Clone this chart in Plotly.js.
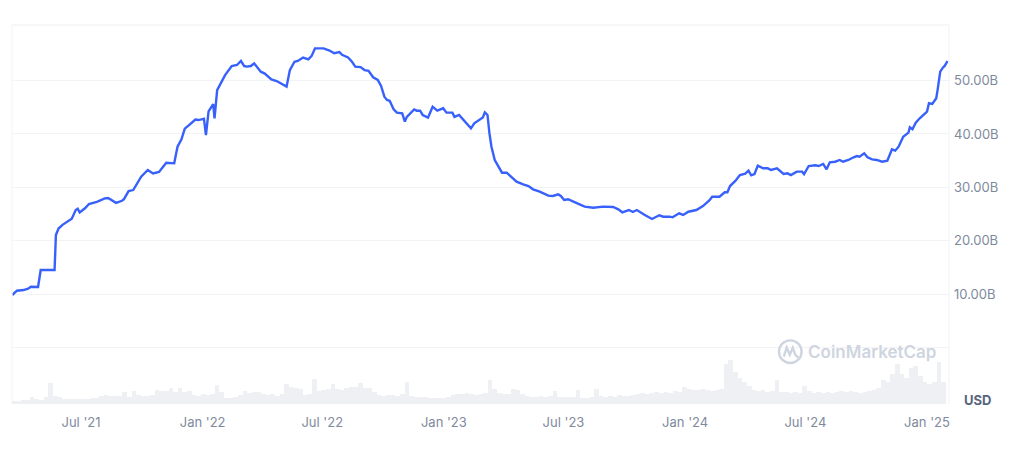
<!DOCTYPE html>
<html>
<head>
<meta charset="utf-8">
<script src="https://cdn.plot.ly/plotly-3.0.1.min.js"></script>
<style>html,body{margin:0;padding:0;background:#fff;}#chart{width:1024px;height:458px;}</style>
</head>
<body>
<div id="chart"></div>
<script>
// Market cap (billions USD)
const capDates = ['2021-03-19','2021-03-26','2021-04-05','2021-04-12','2021-04-16','2021-04-27','2021-05-01','2021-05-22','2021-05-24','2021-05-28','2021-06-03','2021-06-17','2021-06-23','2021-06-26','2021-06-29','2021-07-07','2021-07-13','2021-07-25','2021-08-06','2021-08-11','2021-08-23','2021-09-01','2021-09-04','2021-09-11','2021-09-18','2021-09-23','2021-09-30','2021-10-10','2021-10-18','2021-10-27','2021-11-07','2021-11-19','2021-11-24','2021-11-30','2021-12-05','2021-12-11','2021-12-21','2021-12-26','2021-12-30','2022-01-03','2022-01-06','2022-01-10','2022-01-17','2022-01-19','2022-01-23','2022-01-30','2022-02-04','2022-02-14','2022-02-22','2022-02-28','2022-03-05','2022-03-09','2022-03-15','2022-03-20','2022-03-30','2022-04-05','2022-04-15','2022-04-23','2022-05-08','2022-05-13','2022-05-20','2022-05-25','2022-06-02','2022-06-10','2022-06-15','2022-06-20','2022-07-03','2022-07-12','2022-07-19','2022-07-27','2022-07-31','2022-08-09','2022-08-15','2022-08-20','2022-08-28','2022-09-03','2022-09-09','2022-09-16','2022-09-23','2022-09-28','2022-10-03','2022-10-07','2022-10-11','2022-10-17','2022-10-22','2022-10-30','2022-11-03','2022-11-06','2022-11-11','2022-11-17','2022-11-21','2022-11-26','2022-11-30','2022-12-08','2022-12-15','2022-12-22','2022-12-31','2023-01-05','2023-01-14','2023-01-17','2023-01-24','2023-01-31','2023-02-11','2023-02-16','2023-02-22','2023-03-01','2023-03-04','2023-03-08','2023-03-11','2023-03-14','2023-03-19','2023-03-24','2023-03-30','2023-04-06','2023-04-13','2023-04-21','2023-05-01','2023-05-09','2023-05-16','2023-05-26','2023-06-08','2023-06-15','2023-06-23','2023-06-27','2023-07-02','2023-07-08','2023-07-16','2023-08-02','2023-08-15','2023-08-30','2023-09-14','2023-09-22','2023-09-28','2023-10-08','2023-10-14','2023-10-20','2023-11-01','2023-11-12','2023-11-23','2023-11-29','2023-12-09','2023-12-13','2023-12-23','2023-12-29','2024-01-06','2024-01-18','2024-01-28','2024-02-07','2024-02-11','2024-02-22','2024-03-01','2024-03-05','2024-03-09','2024-03-17','2024-03-24','2024-04-01','2024-04-06','2024-04-10','2024-04-15','2024-04-20','2024-04-28','2024-05-05','2024-05-10','2024-05-19','2024-05-29','2024-06-04','2024-06-09','2024-06-18','2024-06-26','2024-06-29','2024-07-06','2024-07-16','2024-07-21','2024-07-28','2024-08-02','2024-08-07','2024-08-15','2024-08-22','2024-08-27','2024-09-04','2024-09-12','2024-09-17','2024-09-21','2024-09-28','2024-10-03','2024-10-10','2024-10-17','2024-10-25','2024-11-02','2024-11-05','2024-11-09','2024-11-14','2024-11-19','2024-11-26','2024-12-04','2024-12-06','2024-12-10','2024-12-15','2024-12-21','2025-01-01','2025-01-04','2025-01-09','2025-01-15','2025-01-17','2025-01-21','2025-01-25','2025-01-28','2025-02-01'];
const capValues = [9.87,10.67,10.8,11.05,11.4,11.36,14.55,14.55,21.1,22.3,23.0,24.15,25.77,26.0,25.3,26.1,26.9,27.3,27.95,28.0,27.1,27.5,27.8,29.3,29.5,30.45,32.0,33.25,32.6,32.9,34.6,34.5,37.6,39.0,41.0,41.6,42.7,42.6,42.7,42.85,39.8,44.2,45.6,42.9,48.2,49.8,51.0,52.7,52.9,53.65,52.7,52.6,52.7,53.2,51.65,51.3,50.2,49.9,48.85,51.95,53.5,53.65,54.3,53.95,54.6,56.0,56.0,55.6,55.1,55.3,54.8,54.3,53.5,52.6,52.5,51.95,51.8,50.6,50.1,48.97,46.97,46.35,46.2,44.6,43.98,43.85,42.3,43.2,43.85,44.6,44.35,44.35,43.55,43.05,45.1,44.35,44.8,43.98,43.98,43.2,43.55,42.5,41.05,42.0,42.5,43.1,44.05,43.55,40.1,37.6,35.1,33.9,32.75,32.75,32.0,31.07,30.57,30.26,29.64,29.2,28.45,28.4,28.7,28.4,27.65,27.78,27.33,26.4,26.2,26.4,26.33,25.9,25.34,25.77,25.4,25.77,24.84,24.09,24.78,24.52,24.52,24.4,25.15,24.84,25.45,25.77,26.5,27.6,28.26,28.26,29.08,29.08,30.26,31.2,32.3,32.56,33.13,32.26,32.5,34.07,33.57,33.57,33.25,33.57,32.5,32.63,32.3,32.95,32.95,32.5,34.0,34.13,34.0,34.38,33.38,34.69,34.8,35.13,34.8,35.13,35.63,35.87,35.75,36.38,35.63,35.25,35.13,34.8,35.0,36.06,37.13,36.87,37.62,39.49,40.24,41.24,40.87,42.1,42.93,44.17,45.74,45.6,46.67,48.2,51.65,52.4,52.77,53.65];

// Weekly trading volume (billions USD), first week centred on volStart
const volStart = '2021-03-21';
const volValues = [1.2,1.2,1.6,1.6,2.8,2.0,1.6,2.8,8.4,3.2,2.8,2.0,2.0,2.0,2.0,2.0,2.0,2.4,2.4,3.2,3.6,3.2,3.2,3.2,4.8,2.8,5.2,3.6,3.2,3.2,3.6,5.6,5.2,5.2,6.4,4.8,6.4,4.8,5.2,3.6,3.2,4.0,3.6,4.0,7.6,4.8,2.4,2.4,2.8,3.6,5.2,4.4,4.8,4.8,4.0,3.6,4.0,3.2,4.0,8.0,6.8,6.4,6.0,3.6,4.0,10.0,5.2,5.6,6.0,8.0,6.0,5.6,6.4,6.8,6.8,8.4,6.4,6.4,4.8,3.6,3.2,3.6,3.6,3.2,4.0,8.8,3.2,2.8,2.8,2.8,2.4,2.4,2.4,2.4,2.8,3.6,4.0,4.0,4.4,4.0,3.6,4.0,4.4,9.6,6.0,4.4,4.0,4.0,6.0,5.6,4.0,3.2,2.8,2.8,3.2,2.8,3.2,5.2,2.8,2.8,2.8,2.8,5.6,2.4,2.4,2.8,6.0,3.2,2.8,3.2,2.8,3.6,3.2,3.2,3.6,4.0,4.4,4.0,4.4,4.8,4.4,4.8,4.4,5.2,4.8,6.8,6.0,5.6,5.6,6.0,5.6,5.2,5.6,6.0,16.0,17.6,12.8,10.4,8.8,7.2,5.6,5.2,5.6,4.8,5.2,9.6,4.8,4.8,4.4,4.8,4.4,7.2,5.2,4.4,4.8,4.4,4.8,4.4,4.8,5.2,4.8,5.2,4.8,4.4,4.8,5.2,5.6,6.4,9.6,8.8,12.0,16.0,12.0,10.4,14.4,15.2,11.2,8.8,8.0,8.8,16.8,8.8];

const xTickVals = ['2021-07-01','2022-01-01','2022-07-01','2023-01-01','2023-07-01','2024-01-01','2024-07-01','2025-01-01'];
const xTickText = ["Jul '21","Jan '22","Jul '22","Jan '23","Jul '23","Jan '24","Jul '24","Jan '25"];
const yTickVals = [0,10,20,30,40,50];
const yTickText = ['','10.00B','20.00B','30.00B','40.00B','50.00B'];

const DAY = 86400000;
const t0 = new Date(volStart + 'T00:00:00Z').getTime();
const volDates = volValues.map((_, i) => new Date(t0 + i * 7 * DAY).toISOString().slice(0, 10));

const gray = '#808a9d';
const wm = '#cfd5e0';

const traces = [
  {
    type: 'bar', x: volDates, y: volValues, yaxis: 'y2',
    width: 7 * DAY,
    marker: {color: '#eef0f4', line: {width: 0}},
    hoverinfo: 'skip'
  },
  {
    type: 'scatter', mode: 'lines', x: capDates, y: capValues,
    line: {color: '#3861fb', width: 2.4, shape: 'linear'},
    hoverinfo: 'skip'
  }
];

const layout = {
  width: 1024, height: 458,
  margin: {l: 12, r: 75, t: 25, b: 54, pad: 0},
  paper_bgcolor: '#ffffff', plot_bgcolor: '#ffffff',
  showlegend: false,
  bargap: 0,
  font: {family: 'Inter, "Noto Sans", sans-serif', color: gray},
  xaxis: {
    type: 'date', range: ['2021-03-18 14:00', '2025-02-03 07:00'],
    tickmode: 'array', tickvals: xTickVals, ticktext: xTickText,
    showgrid: false, zeroline: false, showline: false, ticks: '',
    tickfont: {family: 'Inter, sans-serif', size: 13, color: gray},
    ticklabelstandoff: 9
  },
  yaxis: {
    side: 'right', range: [-10.52, 60.38],
    tickmode: 'array', tickvals: yTickVals, ticktext: yTickText,
    showgrid: true, gridcolor: '#f1f3f6', gridwidth: 1,
    zeroline: false, showline: false, ticks: '',
    tickfont: {family: 'Inter, sans-serif', size: 13, color: gray},
    ticklabelstandoff: 4
  },
  yaxis2: {overlaying: 'y', range: [0, 151.6], visible: false, showgrid: false},
  shapes: [
    {type: 'line', xref: 'paper', yref: 'paper', x0: 0, x1: 1, y0: 1, y1: 1, line: {color: '#eceff3', width: 1}},
    {type: 'line', xref: 'paper', yref: 'paper', x0: 0, x1: 0, y0: 0, y1: 1, line: {color: '#f1f3f6', width: 1}},
    {type: 'line', xref: 'paper', yref: 'paper', x0: 1, x1: 1, y0: 0, y1: 1, line: {color: '#f1f3f6', width: 1}},
    {type: 'circle', xref: 'paper', yref: 'paper', xsizemode: 'pixel', ysizemode: 'pixel',
     xanchor: 0.8306, yanchor: 0.138, x0: -11.3, x1: 11.3, y0: -11.3, y1: 11.3,
     line: {color: wm, width: 2.4}},
    {type: 'path', xref: 'paper', yref: 'paper', xsizemode: 'pixel', ysizemode: 'pixel',
     xanchor: 0.8306, yanchor: 0.138,
     path: 'M -6.5,-5 L -3.5,4 L -0.5,-3 L 2.5,4 L 5,-3 L 8,-6',
     line: {color: wm, width: 2.4}}
  ],
  annotations: [
    {xref: 'paper', yref: 'paper', x: 0.9178, y: 0.138, xanchor: 'center', yanchor: 'middle',
     text: 'CoinMarketCap', showarrow: false,
     font: {family: 'Inter, sans-serif', size: 17, color: wm, weight: 600}},
    {xref: 'paper', yref: 'paper', x: 1.03, y: 0.0106, xanchor: 'center', yanchor: 'middle',
     text: '<b>USD</b>', showarrow: false,
     font: {family: 'Inter, sans-serif', size: 13, color: '#58667e'}}
  ]
};

Plotly.newPlot('chart', traces, layout, {staticPlot: true, displayModeBar: false});
</script>
</body>
</html>
